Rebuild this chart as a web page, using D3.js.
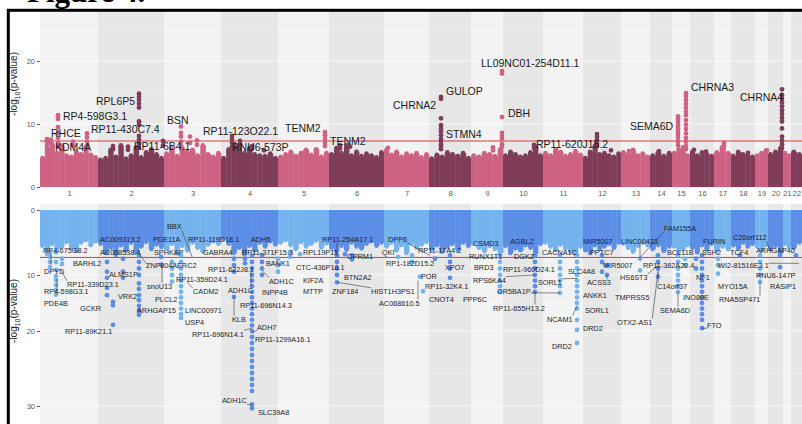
<!DOCTYPE html>
<html>
<head>
<meta charset="utf-8">
<script src="https://cdn.jsdelivr.net/npm/d3@7"></script>
<style>
  body { margin: 0; background: #fff; }
  svg { display: block; }
</style>
</head>
<body>
<svg id="chart" width="802" height="424"></svg>
<script>
// chromosomes and their widths on the shared genome axis
const chromNames = ["1","2","3","4","5","6","7","8","9","10","11","12","13","14","15","16","17","18","19","20","21","22"];
const chromWidths = [58, 66, 57, 57, 51, 55, 45, 42, 32, 40, 40, 38, 29, 22, 18, 24, 17, 24, 13, 15, 8, 11];

const threshold = 7.3;
const topTicks = [0, 10, 20];
const botTicks = [0, 10, 20, 30];

// upper envelope of the dense SNP cloud, per chromosome (top panel)
const topEnvelope = [
  [4.6, 6.2, 6.8, 5.4, 6.5, 5.0, 4.8, 5.6, 5.2, 6.4, 5.1, 4.7],
  [4.3, 4.6, 5.9, 4.8, 6.6, 4.5, 5.0, 6.3, 4.7, 5.5, 6.0, 5.2, 4.6],
  [5.3, 5.8, 4.9, 6.2, 5.6, 5.9, 5.0, 6.6, 5.2, 4.8, 5.4],
  [4.6, 6.0, 6.8, 6.5, 5.4, 6.2, 5.2, 5.0, 4.9, 5.3, 4.6],
  [4.8, 5.2, 5.6, 4.9, 5.4, 5.9, 5.1, 6.0, 4.8, 5.4],
  [5.2, 6.2, 5.4, 6.6, 5.0, 5.6, 4.9, 5.3, 5.0, 4.7, 5.5],
  [5.9, 5.1, 5.6, 4.8, 5.3, 5.0, 5.4, 4.7, 5.2],
  [4.5, 5.1, 4.8, 5.5, 5.2, 4.9, 5.4, 4.6],
  [5.0, 4.8, 5.4, 5.2, 4.9, 6.0],
  [5.0, 5.6, 5.2, 4.8, 5.0, 5.5, 6.4, 5.0],
  [5.4, 5.0, 5.8, 5.6, 4.9, 5.2, 5.7, 5.1],
  [4.6, 5.6, 6.5, 5.2, 5.4, 5.0, 4.8, 5.3],
  [5.5, 5.2, 5.9, 5.0, 5.3, 4.8],
  [5.0, 5.5, 4.9, 5.4],
  [5.4, 6.0, 5.6, 5.0],
  [5.6, 5.0, 5.5, 5.2, 4.9],
  [5.5, 6.4, 5.4],
  [4.9, 5.6, 5.2, 5.0, 4.8],
  [5.0, 5.4, 5.8],
  [5.2, 5.6, 6.2],
  [5.4, 5.0],
  [5.6, 5.2]
];

// lower envelope of the dense SNP cloud, per chromosome (bottom panel)
const botEnvelope = [
  [5.5, 6.8, 5.2, 6.0, 5.6, 4.9, 5.8, 6.3, 5.0, 4.6, 5.4, 4.8],
  [5.2, 6.6, 5.8, 6.9, 5.4, 6.2, 5.0, 6.5, 5.6, 4.9, 6.0, 5.3, 5.7],
  [6.0, 5.2, 6.7, 5.5, 6.2, 5.0, 5.8, 6.4, 5.3, 4.8, 5.2],
  [4.4, 5.2, 6.6, 5.8, 6.8, 5.5, 6.2, 5.0, 5.6, 4.8, 5.3],
  [5.0, 4.6, 5.4, 6.0, 4.9, 5.6, 5.2, 4.7, 5.8, 5.1],
  [5.8, 6.4, 5.5, 6.1, 5.0, 5.6, 5.9, 5.2, 4.8, 5.5, 5.0],
  [5.6, 5.0, 6.2, 5.4, 6.6, 5.1, 5.8, 5.3, 4.9],
  [6.0, 5.4, 6.4, 5.6, 5.2, 6.1, 5.0, 5.5],
  [5.2, 5.8, 6.3, 5.5, 6.0, 6.6],
  [5.5, 6.6, 5.9, 6.2, 5.4, 5.8, 6.7, 5.2],
  [5.0, 5.6, 6.2, 5.3, 5.9, 6.4, 6.8, 5.6],
  [6.2, 6.6, 5.4, 6.0, 5.6, 5.2, 5.8, 5.0],
  [5.2, 5.8, 6.4, 5.5, 5.0, 5.4],
  [6.0, 5.4, 6.3, 5.6],
  [5.6, 6.4, 6.0, 5.4],
  [5.8, 6.5, 5.4, 6.0, 5.2],
  [6.2, 5.6, 6.0],
  [5.4, 5.9, 5.0, 5.6, 5.2],
  [5.6, 6.2, 5.4],
  [6.0, 5.5, 6.6],
  [5.2, 5.6],
  [5.8, 5.0]
];

// stand-out SNPs, top panel: genome position and their -log10 p values
const topHitPos = [7, 11, 18, 33, 47, 73, 88, 99, 123, 131, 141, 150, 157, 192, 200, 212, 224, 265, 285, 300,
  310, 348, 401, 453, 462, 494, 516, 557, 571, 589, 619, 638, 643, 646, 654, 666, 684, 708, 727, 742];
const topHitVals = [
  [7.6, 7.2, 6.6], [7.5, 7.0], [11.4, 10.8, 9.5, 8.6, 7.8, 7.0, 6.4], [7.2, 6.6], [8.5, 7.9, 7.2, 6.5],
  [6.5, 6.0], [6.4, 5.9], [14.8, 14.3, 13.8, 13.2, 12.6, 10.4, 9.9, 8.1, 7.5, 6.9, 6.2], [7.3, 6.6], [6.1],
  [9.6, 8.6, 8.0, 7.2, 6.5], [8.0, 7.0], [7.4, 6.7], [8.1, 7.6, 7.0, 6.4], [7.3, 6.8],
  [6.5, 6.1], [5.8], [5.6], [8.7, 8.2, 7.6, 7.0, 6.5], [6.6, 6.1],
  [6.4], [6.2], [14.3, 14.0, 10.9, 9.8, 9.3, 8.8, 8.2, 7.6, 7.3, 6.8, 6.4, 6.0], [6.3, 5.8],
  [18.4, 18.0, 11.1, 8.6, 8.1, 7.6, 6.8, 6.4], [6.7, 6.2], [6.0], [8.4, 8.0, 7.5, 7.0, 6.5], [5.8], [5.7],
  [5.7], [11.2, 10.8, 10.3, 9.8, 9.3, 8.8, 8.3, 7.8, 7.2, 6.6], [5.8, 6.3],
  [14.9, 14.4, 13.8, 13.2, 12.6, 12.0, 11.4, 10.6, 9.9, 9.2, 8.5, 7.8, 7.2, 6.5, 6.0],
  [5.9], [5.6], [7.0, 6.5], [5.4], [5.8],
  [15.5, 14.6, 14.0, 13.4, 12.8, 12.2, 11.6, 11.0, 10.4, 9.3, 8.0, 7.4, 6.8, 6.2]
];

// stand-out SNPs, bottom panel
const botHitPos = [10, 16, 22, 67, 73, 83, 99, 121, 132, 141, 194, 205, 212, 222, 238, 250, 260, 297, 305, 312,
  358, 372, 380, 383, 395, 410, 460, 495, 520, 537, 562, 567, 600, 618, 638, 645, 656, 662, 678, 700, 720, 740, 756];
const botHitVals = [
  [6.5, 7.2, 8.0, 8.8], [6.5, 8.0, 9.2, 10.2, 10.9, 11.8, 12.7, 13.5], [7.5, 8.3],
  [6.5, 8.0, 9.5, 10.5, 12.3, 13.6], [14.8, 15.4, 18.9], [7.5, 9.5, 10.5],
  [7.0, 8.0, 9.0, 10.0, 11.5, 12.5, 13.6, 14.5, 15.5, 16.3, 17.1], [7.2, 8.4], [8.0, 9.0, 10.0, 11.2],
  [7.0, 8.0, 9.0, 10.0, 11.0, 12.0, 13.0, 14.0, 15.0, 16.0, 17.0, 17.7],
  [7.5, 8.5, 9.5, 13.9], [7.5, 8.2],
  [7.0, 8.0, 9.0, 10.0, 11.0, 12.0, 13.0, 14.0, 15.0, 16.0, 17.0, 18.0, 19.0, 20.0, 20.8, 21.6, 22.4, 23.2,
   24.0, 24.8, 25.6, 26.4, 27.2, 28.0, 29.8, 30.3],
  [7.0, 8.0, 9.0, 10.0], [7.5, 8.5, 9.5], [6.5, 7.2], [6.8], [7.0, 8.0, 9.0, 10.0, 11.3], [6.8], [7.0, 7.6],
  [7.2], [7.0, 8.0], [10.3], [12.9], [7.5], [7.0, 8.0, 9.0, 10.5],
  [7.0, 8.0, 9.0, 10.0, 11.0, 12.0, 13.0], [7.0, 8.0, 9.0, 10.0, 11.0, 12.0, 13.0],
  [7.0, 8.0, 9.0, 10.0, 11.0, 12.0, 13.2],
  [7.0, 8.0, 9.0, 10.0, 11.0, 12.0, 13.0, 14.0, 15.0, 16.0, 18.0, 19.8, 21.6],
  [7.0, 8.0, 9.5], [8.5, 10.0], [7.5, 9.3], [7.0, 8.0, 9.0, 10.3], [7.0, 8.0, 9.0, 10.0, 11.0, 12.0, 13.0],
  [7.5, 8.5], [7.5, 9.0], [7.0, 8.0, 9.0, 10.0, 11.0, 12.0, 13.0, 14.0, 15.0, 16.0, 17.0, 18.0, 19.5],
  [7.5, 8.5, 9.8], [7.0], [7.0, 8.0, 9.0, 10.0, 11.2], [7.0, 8.8], [7.0]
];

// gene labels: text, position, value (left edge, vertical centre)
const topLabels = [
  ["RHCE", 11, 8.6], ["KDM4A", 15, 6.3], ["RP4-598G3.1", 23, 11.3], ["RPL6P5", 56, 13.7],
  ["RP11-430C7.4", 51, 9.2], ["RP11-6B4.1", 94, 6.5], ["BSN", 127, 10.6], ["RP11-123O22.1", 163, 8.9],
  ["RNU6-573P", 192, 6.3], ["TENM2", 245, 9.4], ["TENM2", 290, 7.3], ["CHRNA2", 353, 13.0],
  ["GULOP", 406, 15.2], ["STMN4", 406, 8.4], ["LL09NC01-254D11.1", 441, 19.7], ["DBH", 468, 11.7],
  ["RP11-620J15.2", 496, 6.8], ["SEMA6D", 590, 9.7], ["CHRNA3", 651, 15.9], ["CHRNA4", 700, 14.3]
];

// text, position, value, and the SNP the leader line points to (or null)
const botLabels = [
  ["RP4-675G8.2", 3, 6.2, 11, 8.4], ["BARHL2", 33, 8.2, null, null], ["DPYD", 4, 9.5, null, null],
  ["RP11-339D23.1", 27, 11.7, 20, 9.0], ["RP4-598G3.1", 4, 13.0, 17, 10.7], ["PDE4B", 4, 15.0, null, null],
  ["GCKR", 40, 15.9, null, null], ["RP11-89K21.1", 25, 20.1, null, null],
  ["AC009313.2", 60, 4.6, null, null], ["AC068538.4", 60, 6.5, 107, 8.4], ["ALMS1P", 69, 9.9, null, null],
  ["VRK2", 78, 13.9, null, null], ["snoU13", 107, 12.0, 122, 8.5], ["PLCL2", 115, 14.3, null, null],
  ["ARHGAP15", 97, 16.4, null, null], ["PDE11A", 113, 4.6, null, null], ["SPHKAP", 114, 6.5, null, null],
  ["ZNF804A", 106, 8.5, null, null], ["BBX", 127, 2.6, 152, 7.2], ["ERC2", 137, 8.5, null, null],
  ["RP11-359D24.1", 136, 10.8, null, null], ["CADM2", 153, 13.0, 147, 11.3], ["LINC00971", 145, 16.3, null, null],
  ["USP4", 145, 18.4, null, null], ["RP11-696N14.1", 152, 20.4, 212, 19.5], ["RP11-119D18.1", 148, 4.6, null, null],
  ["GABRA4", 163, 6.5, null, null], ["RP11-622J8.1", 168, 9.1, null, null], ["ADH1C", 188, 12.7, 211, 9.4],
  ["KLB", 192, 17.9, 194, 13.9], ["ADH5", 211, 4.5, null, null], ["RP11-371F15.3", 202, 6.5, null, null],
  ["BANK1", 226, 8.3, null, null], ["ADH1C", 229, 11.1, 222, 9.3], ["INPP4B", 222, 13.2, null, null],
  ["RP11-696N14.3", 200, 15.4, null, null], ["ADH7", 217, 19.3, 212, 20.2], ["RP11-1299A16.1", 215, 21.1, null, null],
  ["ADH1C", 182, 29.3, 212, 29.9], ["SLC39A8", 218, 30.9, null, null], ["CTC-436P18.1", 256, 8.9, null, null],
  ["KIF2A", 263, 10.9, null, null], ["MTTP", 263, 13.0, null, null], ["RPL19P11", 263, 6.5, null, null],
  ["RP11-254A17.1", 282, 4.5, 297, 7.0], ["OPRM1", 307, 7.1, null, null], ["BTN2A2", 304, 10.5, null, null],
  ["ZNF184", 292, 13.0, null, null], ["HIST1H3PS1", 331, 12.9, 297, 11.3], ["DPP6", 348, 4.5, 390, 7.0],
  ["QKI", 342, 6.5, null, null], ["RP1-182D15.2", 346, 8.3, null, null], ["AC068610.5", 339, 15.0, 378, 11.0],
  ["POR", 381, 10.2, null, null], ["RP11-17A4.2", 378, 6.3, null, null], ["XPO7", 405, 8.9, null, null],
  ["RP11-32K4.1", 385, 12.0, null, null], ["CNOT4", 389, 14.3, null, null], ["CSMD3", 433, 5.1, null, null],
  ["RUNX1T1", 429, 7.1, null, null], ["BRD3", 434, 8.9, null, null], ["RPS6KA4", 433, 10.9, 495, 10.0],
  ["PPP6C", 423, 14.3, null, null], ["AGBL2", 470, 4.9, null, null], ["DGKZ", 474, 7.2, null, null],
  ["RP11-960D24.1", 463, 9.2, null, null], ["SORL1", 498, 11.3, 537, 10.6], ["OR5BA1P", 457, 13.0, 520, 13.2],
  ["RP11-655H13.2", 453, 15.9, 495, 13.0], ["CACNA1C", 502, 6.6, null, null], ["SLC4A8", 528, 9.4, null, null],
  ["ANKK1", 543, 13.6, null, null], ["SORL1", 545, 16.4, null, null], ["NCAM1", 507, 17.9, 537, 15.5],
  ["DRD2", 543, 19.6, null, null], ["DRD2", 512, 22.0, null, null], ["MIR5007", 543, 4.8, null, null],
  ["PPTC7", 550, 6.6, null, null], ["ACSS3", 547, 11.4, 567, 10.0], ["MIR5007", 563, 8.6, null, null],
  ["LINC00433", 581, 4.8, 600, 7.5], ["FAM155A", 624, 2.8, 600, 7.3], ["HS6ST3", 580, 10.5, 618, 8.5],
  ["TMPRSS5", 575, 14.1, null, null], ["OTX2-AS1", 577, 18.4, 618, 9.5], ["RP11-382A20.4", 603, 8.5, null, null],
  ["BCL11B", 627, 6.5, null, null], ["C14orf37", 617, 12.0, 618, 9.3], ["SEMA6D", 620, 16.3, 638, 13.0],
  ["INO80E", 643, 14.1, null, null], ["NF1", 656, 10.5, null, null], ["FTO", 667, 19.1, 662, 19.5],
  ["FURIN", 663, 4.8, null, null], ["SSH2", 662, 6.6, null, null], ["TCF4", 690, 6.6, null, null],
  ["C20orf112", 693, 4.3, 730, 6.3], ["ARHGAP40", 716, 6.3, null, null], ["WI2-81516E3.1", 678, 8.5, 759, 8.2],
  ["RNU6-147P", 716, 10.0, null, null], ["MYO15A", 678, 12.0, null, null], ["RASIP1", 730, 12.1, null, null],
  ["RNA5SP471", 679, 14.3, 720, 11.2]
];

const topColors = ["#cd6282", "#7f3d5a"];
const botColors = ["#74b3ee", "#5c8ee6"];
const bandColors = ["#f3f3f3", "#e7e7e7"];

const svg = d3.select("#chart");
const starts = [0];
chromWidths.forEach(w => starts.push(starts[starts.length - 1] + w));
const genomeLen = starts[starts.length - 1];

const x = d3.scaleLinear().domain([0, genomeLen]).range([40, 802]);
const yTop = d3.scaleLinear().domain([0, 28]).range([187, 10.6]);
const yBot = d3.scaleLinear().domain([0, 10, 20, 30, 34]).range([210, 275, 331, 406, 436]);

function chromIndex(pos) {
  for (let i = 0; i < chromWidths.length; i++) if (pos < starts[i + 1]) return i;
  return chromWidths.length - 1;
}

function drawPanel(opts) {
  const g = svg.append("g");
  const y = opts.y;
  const yA = y(opts.panel[0]), yB = y(opts.panel[1]);
  const top = Math.min(yA, yB), h = Math.abs(yB - yA);

  // chromosome background bands
  g.append("g").selectAll("rect").data(chromWidths).join("rect")
    .attr("x", (d, i) => x(starts[i]))
    .attr("width", (d, i) => x(starts[i + 1]) - x(starts[i]))
    .attr("y", top).attr("height", h)
    .attr("fill", (d, i) => bandColors[i % 2]);

  // faint grid
  g.append("g").selectAll("line").data(opts.grid).join("line")
    .attr("x1", x(0)).attr("x2", x(genomeLen))
    .attr("y1", d => y(d)).attr("y2", d => y(d))
    .attr("stroke", "#fff").attr("stroke-opacity", 0.7)
    .attr("stroke-width", d => d % 10 === 0 ? 0.9 : 0.45);

  // dense SNP cloud
  const bins = [];
  opts.envelope.forEach((vals, i) => {
    const w = chromWidths[i] / vals.length;
    vals.forEach((v, j) => bins.push({ p0: starts[i] + j * w, p1: starts[i] + (j + 1) * w, v: v, c: i }));
  });
  const cloud = g.append("g");
  cloud.selectAll("rect").data(bins).join("rect")
    .attr("x", d => x(d.p0)).attr("width", d => x(d.p1) - x(d.p0) + 0.4)
    .attr("y", d => Math.min(y(0), y(d.v)))
    .attr("height", d => Math.abs(y(d.v) - y(0)))
    .attr("fill", d => opts.colors[d.c % 2]);
  cloud.selectAll("circle").data(bins).join("circle")
    .attr("cx", d => x((d.p0 + d.p1) / 2)).attr("cy", d => y(d.v)).attr("r", 2.3)
    .attr("fill", d => opts.colors[d.c % 2]);

  // threshold line
  g.append("line")
    .attr("x1", x(0)).attr("x2", x(genomeLen))
    .attr("y1", y(threshold)).attr("y2", y(threshold))
    .attr("stroke", "#e2393b").attr("stroke-width", 1);

  // stand-out SNPs
  const hits = [];
  opts.hitPos.forEach((p, k) => opts.hitVals[k].forEach(v => hits.push({ p: p, v: v })));
  g.append("g").selectAll("circle").data(hits).join("circle")
    .attr("cx", d => x(d.p)).attr("cy", d => y(d.v)).attr("r", 2.4)
    .attr("fill", d => opts.colors[chromIndex(d.p) % 2]);

  // y axis
  const ax = g.append("g").attr("transform", "translate(40,0)")
    .call(d3.axisLeft(y).tickValues(opts.ticks).tickSize(3).tickPadding(2));
  ax.select(".domain").remove();
  ax.selectAll(".tick line").attr("stroke", "#5a5a5a");
  ax.selectAll(".tick text").attr("fill", "#5a5a5a")
    .style("font-family", "Liberation Sans, Arial, sans-serif").style("font-size", "7.5px");

  // axis title
  const t = g.append("text")
    .attr("transform", `translate(17,${opts.titleY}) rotate(-90)`)
    .attr("text-anchor", "middle")
    .style("font-family", "Liberation Sans, Arial, sans-serif").style("font-size", "10px")
    .attr("fill", "#222");
  t.append("tspan").text("-log");
  t.append("tspan").text("10").attr("dy", 2.5).style("font-size", "7px");
  t.append("tspan").text("(p-value)").attr("dy", -2.5);

  return g;
}

drawPanel({
  y: yTop, panel: [27.9, -0.15], grid: [0, 5, 10, 15, 20, 25], envelope: topEnvelope,
  hitPos: topHitPos, hitVals: topHitVals, colors: topColors, ticks: topTicks, titleY: 84
});
drawPanel({
  y: yBot, panel: [-0.9, 34], grid: [0, 5, 10, 15, 20, 25, 30], envelope: botEnvelope,
  hitPos: botHitPos, hitVals: botHitVals, colors: botColors, ticks: botTicks, titleY: 311
});

// chromosome labels between the panels
const xAxis = svg.append("g").attr("transform", "translate(0,189)")
  .call(d3.axisBottom(x)
    .tickValues(chromWidths.map((w, i) => starts[i] + w / 2))
    .tickFormat((d, i) => chromNames[i])
    .tickSize(0).tickPadding(2));
xAxis.select(".domain").remove();
xAxis.selectAll("text").attr("fill", "#5a5a5a")
  .style("font-family", "Liberation Sans, Arial, sans-serif").style("font-size", "7.5px");

// gene labels, top panel
svg.append("g").selectAll("text").data(topLabels).join("text")
  .attr("x", d => x(d[1])).attr("y", d => yTop(d[2]))
  .attr("dominant-baseline", "central")
  .style("font-family", "Liberation Sans, Arial, sans-serif").style("font-size", "10.5px")
  .attr("fill", "#1a1a1a")
  .text(d => d[0]);

// gene labels with leader lines, bottom panel
const segG = svg.append("g");
const labG = svg.append("g");
botLabels.forEach(d => {
  const t = labG.append("text")
    .attr("x", x(d[1])).attr("y", yBot(d[2]))
    .attr("dominant-baseline", "central")
    .style("font-family", "Liberation Sans, Arial, sans-serif").style("font-size", "7.3px")
    .attr("fill", "#1e1e2a")
    .text(d[0]);
  if (d[3] === null) return;
  const b = t.node().getBBox();
  const tx = x(d[3]), ty = yBot(d[4]);
  const cx = Math.max(b.x, Math.min(tx, b.x + b.width));
  const cy = Math.max(b.y + 1, Math.min(ty, b.y + b.height - 1));
  if (Math.hypot(tx - cx, ty - cy) < 3) return;
  segG.append("line")
    .attr("x1", cx).attr("y1", cy).attr("x2", tx).attr("y2", ty)
    .attr("stroke", "#3a3a3a").attr("stroke-width", 0.6);
});

// figure caption (cut off at the top edge) and frame
svg.append("text")
  .attr("x", 27).attr("y", 1.5)
  .style("font-family", "Liberation Serif, Times New Roman, serif")
  .style("font-size", "31px").style("font-weight", "bold")
  .attr("fill", "#000")
  .text("Figure 4.");

svg.append("rect")
  .attr("x", 8.3).attr("y", 10.3).attr("width", 820).attr("height", 440)
  .attr("fill", "none").attr("stroke", "#000").attr("stroke-width", 3);
</script>
</body>
</html>
